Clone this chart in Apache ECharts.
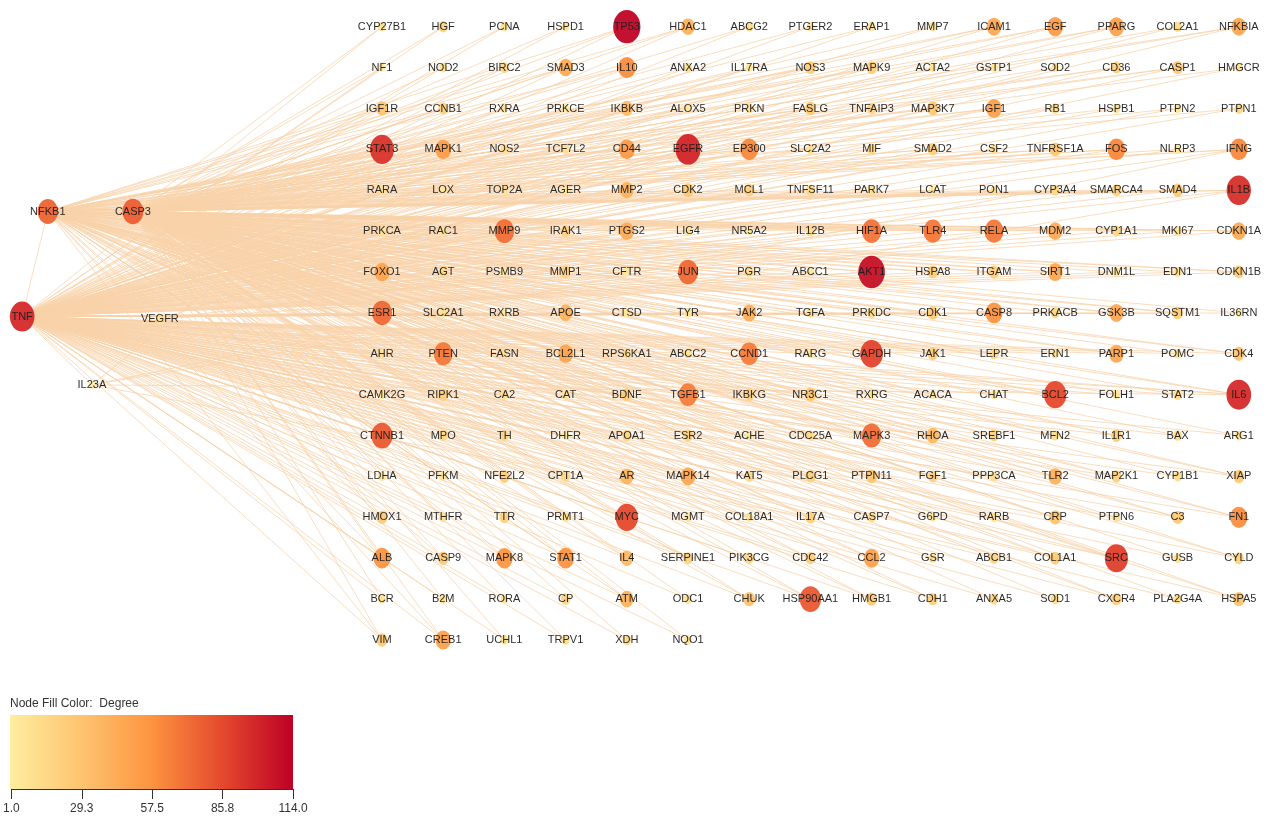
<!DOCTYPE html>
<html>
<head>
<meta charset="utf-8">
<script src="https://cdn.jsdelivr.net/npm/echarts@6/dist/echarts.min.js"></script>
<style>
  html, body { margin: 0; padding: 0; background: #ffffff; }
  #chart { width: 1271px; height: 821px; }
</style>
</head>
<body>
<div id="chart"></div>
<script>
// Gene grid: one array of names and one of degrees per row
const row01 = ['CYP27B1','HGF','PCNA','HSPD1','TP53','HDAC1','ABCG2','PTGER2','ERAP1','MMP7','ICAM1','EGF','PPARG','COL2A1','NFKBIA'];
const deg01 = [10,18,10,8,112,40,12,8,8,10,46,52,50,14,46];
const row02 = ['NF1','NOD2','BIRC2','SMAD3','IL10','ANXA2','IL17RA','NOS3','MAPK9','ACTA2','GSTP1','SOD2','CD36','CASP1','HMGCR'];
const deg02 = [4,10,16,44,60,10,6,24,24,8,6,8,20,26,8];
const row03 = ['IGF1R','CCNB1','RXRA','PRKCE','IKBKB','ALOX5','PRKN','FASLG','TNFAIP3','MAP3K7','IGF1','RB1','HSPB1','PTPN2','PTPN1'];
const deg03 = [30,20,8,4,34,4,10,26,18,28,50,14,10,8,16];
const row04 = ['STAT3','MAPK1','NOS2','TCF7L2','CD44','EGFR','EP300','SLC2A2','MIF','SMAD2','CSF2','TNFRSF1A','FOS','NLRP3','IFNG'];
const deg04 = [94,52,12,10,54,100,62,10,16,22,12,28,62,8,62];
const row05 = ['RARA','LOX','TOP2A','AGER','MMP2','CDK2','MCL1','TNFSF11','PARK7','LCAT','PON1','CYP3A4','SMARCA4','SMAD4','IL1B'];
const deg05 = [6,4,10,6,40,28,22,16,10,6,8,16,20,26,96];
const row06 = ['PRKCA','RAC1','MMP9','IRAK1','PTGS2','LIG4','NR5A2','IL12B','HIF1A','TLR4','RELA','MDM2','CYP1A1','MKI67','CDKN1A'];
const deg06 = [6,8,72,20,44,8,4,14,70,68,68,44,16,10,44];
const row07 = ['FOXO1','AGT','PSMB9','MMP1','CFTR','JUN','PGR','ABCC1','AKT1','HSPA8','ITGAM','SIRT1','DNM1L','EDN1','CDKN1B'];
const deg07 = [48,16,4,22,6,74,14,6,108,24,24,46,6,12,24];
const row08 = ['ESR1','SLC2A1','RXRB','APOE','CTSD','TYR','JAK2','TGFA','PRKDC','CDK1','CASP8','PRKACB','GSK3B','SQSTM1','IL36RN'];
const deg08 = [74,10,4,40,6,8,42,10,14,26,58,16,46,24,4];
const row09 = ['AHR','PTEN','FASN','BCL2L1','RPS6KA1','ABCC2','CCND1','RARG','GAPDH','JAK1','LEPR','ERN1','PARP1','POMC','CDK4'];
const deg09 = [8,68,10,48,12,10,66,6,88,24,16,8,46,10,30];
const row10 = ['CAMK2G','RIPK1','CA2','CAT','BDNF','TGFB1','IKBKG','NR3C1','RXRG','ACACA','CHAT','BCL2','FOLH1','STAT2','IL6'];
const deg10 = [6,22,12,8,24,66,22,28,6,6,6,86,8,14,98];
const row11 = ['CTNNB1','MPO','TH','DHFR','APOA1','ESR2','ACHE','CDC25A','MAPK3','RHOA','SREBF1','MFN2','IL1R1','BAX','ARG1'];
const deg11 = [80,16,16,6,18,20,6,14,72,36,20,12,24,14,10];
const row12 = ['LDHA','PFKM','NFE2L2','CPT1A','AR','MAPK14','KAT5','PLCG1','PTPN11','FGF1','PPP3CA','TLR2','MAP2K1','CYP1B1','XIAP'];
const deg12 = [8,6,24,16,38,46,16,22,28,20,12,40,22,12,26];
const row13 = ['HMOX1','MTHFR','TTR','PRMT1','MYC','MGMT','COL18A1','IL17A','CASP7','G6PD','RARB','CRP','PTPN6','C3','FN1'];
const deg13 = [26,10,20,10,86,8,8,22,14,6,10,30,10,26,60];
const row14 = ['ALB','CASP9','MAPK8','STAT1','IL4','SERPINE1','PIK3CG','CDC42','CCL2','GSR','ABCB1','COL1A1','SRC','GUSB','CYLD'];
const deg14 = [58,26,56,58,36,20,18,22,50,10,18,24,90,10,20];
const row15 = ['BCR','B2M','RORA','CP','ATM','ODC1','CHUK','HSP90AA1','HMGB1','CDH1','ANXA5','SOD1','CXCR4','PLA2G4A','HSPA5'];
const deg15 = [8,10,8,18,40,10,30,80,26,22,16,14,22,12,30];
const row16 = ['VIM','CREB1','UCHL1','TRPV1','XDH','NQO1'];
const deg16 = [26,50,10,12,14,8];

// Hub genes on the left, placed in the same column/row units as the grid
const hubNames   = ['TNF','NFKB1','CASP3','VEGFR','IL23A'];
const hubDegrees = [98, 76, 78, 10, 2];
const hubCols    = [-5.88, -5.46, -4.07, -3.63, -4.74];
const hubRows    = [7.09, 4.52, 4.52, 7.15, 8.76];

// Extra links of the smaller hubs
const vegfrTargets = ['EGFR','AKT1','HIF1A','SRC','MAPK3','IL6'];
const il23aTargets = ['IL17A','IL6','IL1B','STAT3','IFNG','TNF'];

// Degree colour scale and legend ticks
const degreeMin = 1;
const degreeMax = 114;
const degreePalette = ['#FFEDA0','#FEC46F','#FD9440','#E5492D','#BD0026'];
const legendTicks = [1, 29.25, 57.5, 85.75, 114];

const gridNames = [row01,row02,row03,row04,row05,row06,row07,row08,row09,row10,row11,row12,row13,row14,row15,row16];
const gridDegrees = [deg01,deg02,deg03,deg04,deg05,deg06,deg07,deg08,deg09,deg10,deg11,deg12,deg13,deg14,deg15,deg16];

const FONT = "'Liberation Sans', Arial, sans-serif";

function nodeSize(d) {
  const w = 6 + 0.19 * d;
  return [w, w * 1.22];
}

// Node records: [column, row, degree] plus the gene name
const nodes = [];
const gridGenes = [];
gridNames.forEach((names, r) => {
  names.forEach((name, c) => {
    const d = gridDegrees[r][c];
    nodes.push({ name: name, value: [c, r, d] });
    gridGenes.push({ name: name, degree: d });
  });
});
hubNames.forEach((name, i) => {
  nodes.push({ name: name, value: [hubCols[i], hubRows[i], hubDegrees[i]] });
});

// Interaction edges
const links = [];
gridGenes.forEach(g => {
  links.push({ source: 'TNF', target: g.name });
  links.push({ source: 'CASP3', target: g.name });
  if (g.degree >= 20) links.push({ source: 'NFKB1', target: g.name });
});
links.push({ source: 'NFKB1', target: 'TNF' });
links.push({ source: 'NFKB1', target: 'CASP3' });
vegfrTargets.forEach(t => links.push({ source: 'VEGFR', target: t }));
il23aTargets.forEach(t => links.push({ source: 'IL23A', target: t }));

const chart = echarts.init(document.getElementById('chart'), null, { renderer: 'canvas' });

const barLeft = 10, barTop = 715, barWidth = 283, barHeight = 74;

chart.setOption({
  backgroundColor: '#ffffff',
  animation: false,
  grid: [
    { left: 14.8, right: 32.2, top: 26.7, bottom: 821 - 640 },
    { left: barLeft, top: barTop, width: barWidth, height: barHeight }
  ],
  xAxis: [
    { type: 'value', gridIndex: 0, min: -6, max: 14, show: false },
    {
      type: 'value', gridIndex: 1, min: degreeMin, max: degreeMax,
      axisLine: { show: true, onZero: false, lineStyle: { color: '#333', width: 1 } },
      splitLine: { show: false },
      axisTick: { show: true, length: 10, customValues: legendTicks, lineStyle: { color: '#333' } },
      axisLabel: {
        show: true, customValues: legendTicks, margin: 14,
        color: '#333', fontSize: 12, fontFamily: FONT,
        formatter: v => v.toFixed(1)
      }
    }
  ],
  yAxis: [
    { type: 'value', gridIndex: 0, min: 0, max: 15, inverse: true, show: false },
    { type: 'value', gridIndex: 1, min: 0, max: 1, show: false }
  ],
  visualMap: {
    show: false,
    type: 'continuous',
    seriesIndex: 1,
    dimension: 2,
    min: degreeMin,
    max: degreeMax,
    inRange: { color: degreePalette }
  },
  graphic: [
    {
      type: 'rect',
      left: barLeft, top: barTop,
      shape: { width: barWidth, height: barHeight },
      style: {
        fill: new echarts.graphic.LinearGradient(0, 0, 1, 0,
          degreePalette.map((c, i) => ({ offset: i / (degreePalette.length - 1), color: c })))
      },
      z: -1
    },
    {
      type: 'text',
      left: 10, top: 698,
      style: {
        text: 'Node Fill Color:  Degree',
        fill: '#333',
        font: '12px ' + FONT
      }
    }
  ],
  series: [
    {
      // edges only
      type: 'graph',
      coordinateSystem: 'cartesian2d',
      xAxisIndex: 0,
      yAxisIndex: 0,
      layout: 'none',
      symbol: 'none',
      symbolSize: 0,
      data: nodes.map(n => ({ name: n.name, value: n.value.slice(0, 2) })),
      links: links,
      roam: false,
      silent: true,
      z: 1,
      label: { show: false },
      lineStyle: { color: '#F8D2A8', width: 1, opacity: 0.75, curveness: 0 }
    },
    {
      // gene nodes, sized and coloured by degree
      type: 'scatter',
      xAxisIndex: 0,
      yAxisIndex: 0,
      z: 3,
      data: nodes,
      symbol: 'circle',
      symbolSize: v => nodeSize(v[2]),
      itemStyle: { opacity: 0.95 },
      emphasis: { disabled: true },
      label: {
        show: true,
        position: 'inside',
        formatter: p => p.name,
        color: '#1e1e1e',
        fontSize: 11,
        fontFamily: FONT
      }
    }
  ]
});
</script>
</body>
</html>
